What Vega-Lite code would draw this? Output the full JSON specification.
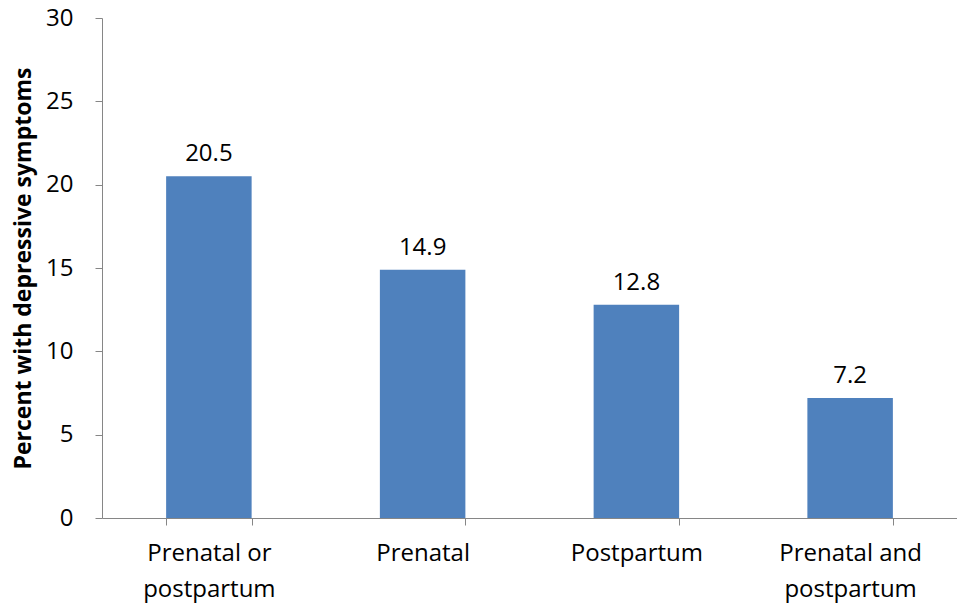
{
  "$schema": "https://vega.github.io/schema/vega-lite/v6.json",
  "width": 855,
  "height": 500,
  "autosize": {"type": "none"},
  "padding": {"left": 102, "top": 18, "right": 0, "bottom": 89},
  "background": "white",
  "config": {"view": {"stroke": null}, "font": "Open Sans"},
  "data": {"values": [
    {"group": "Prenatal or postpartum", "percent": 20.5},
    {"group": "Prenatal", "percent": 14.9},
    {"group": "Postpartum", "percent": 12.8},
    {"group": "Prenatal and postpartum", "percent": 7.2}
  ]},
  "encoding": {
    "x": {
      "field": "group", "type": "nominal", "sort": null,
      "scale": {"paddingInner": 0.6, "paddingOuter": 0.3},
      "axis": {
        "title": null, "labelAngle": 0, "tickBand": "extent",
        "domainColor": "#868686", "tickColor": "#868686", "tickSize": 7,
        "labelFont": "Open Sans", "labelFontSize": 24, "labelColor": "#000000",
        "labelPadding": 16, "labelLineHeight": 36,
        "labelExpr": "datum.value == 'Prenatal or postpartum' ? ['Prenatal or', 'postpartum'] : datum.value == 'Prenatal and postpartum' ? ['Prenatal and', 'postpartum'] : datum.value"
      }
    },
    "y": {
      "field": "percent", "type": "quantitative",
      "scale": {"domain": [0, 30]},
      "axis": {
        "title": "Percent with depressive symptoms",
        "values": [0, 5, 10, 15, 20, 25, 30],
        "grid": false,
        "domainColor": "#868686", "tickColor": "#868686", "tickSize": 7,
        "labelFont": "Open Sans", "labelFontSize": 24, "labelColor": "#000000",
        "labelPadding": 22,
        "titleFont": "Open Sans", "titleFontSize": 23, "titleFontWeight": "bold",
        "titleColor": "#000000", "titlePadding": 10
      }
    }
  },
  "layer": [
    {"mark": {"type": "bar", "color": "#4F81BD"}},
    {"mark": {"type": "text", "dy": -15, "baseline": "alphabetic", "fontSize": 24, "font": "Open Sans", "color": "#000000"},
     "encoding": {"text": {"field": "percent", "type": "quantitative", "format": ".1f"}}}
  ]
}
